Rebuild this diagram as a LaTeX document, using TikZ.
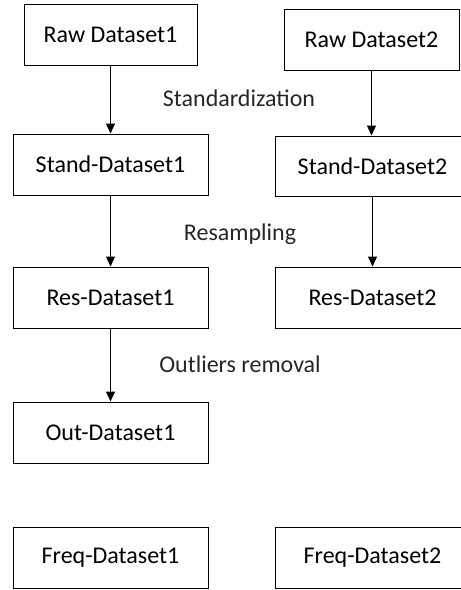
\documentclass[tikz,border=0pt]{standalone}
\usepackage{fontspec}
\setmainfont{Carlito}
\usetikzlibrary{arrows.meta}
\begin{document}
\begin{tikzpicture}[x=1pt,y=-1pt,
  box/.style={draw=black,line width=1pt,minimum height=61pt,inner sep=0pt,font=\fontsize{24}{28}\selectfont},
  lbl/.style={anchor=base,inner sep=0pt,font=\fontsize{24}{28}\selectfont,text=black!85},
  conn/.style={draw=black,line width=1.1pt,-{Triangle[width=9pt,length=10pt]}}]
\useasboundingbox (0,0) rectangle (461,590);
\clip (0,0) rectangle (461,590);
\node[box,minimum width=173pt] (r1) at (110.5,35) {Raw Dataset1};
\node[box,minimum width=175pt] (r2) at (371.5,39.5) {Raw Dataset2};
\node[box,minimum width=195pt] (s1) at (110.5,164.5) {Stand-Dataset1};
\node[box,minimum width=195pt,minimum height=60pt] (s2) at (372.5,166) {Stand-Dataset2};
\node[box,minimum width=195pt] (e1) at (110.5,297.5) {Res-Dataset1};
\node[box,minimum width=195pt] (e2) at (372.5,297.5) {Res-Dataset2};
\node[box,minimum width=195pt] (o1) at (110.5,432.5) {Out-Dataset1};
\node[box,minimum width=195pt] (f1) at (110.5,558) {Freq-Dataset1};
\node[box,minimum width=195pt] (f2) at (372.5,558) {Freq-Dataset2};
\node[lbl] (l1) at (239,106) {Standardization};
\node[lbl] (l2) at (240,240) {Resampling};
\node[lbl] (l3) at (240,372) {Outliers removal};
\draw[conn] (r1.south) -- (s1.north);
\draw[conn] (r2.south) -- (r2.south |- s2.north);
\draw[conn] (s1.south) -- (e1.north);
\draw[conn] (s2.south) -- (e2.north);
\draw[conn] (e1.south) -- (o1.north);
\end{tikzpicture}
\end{document}
